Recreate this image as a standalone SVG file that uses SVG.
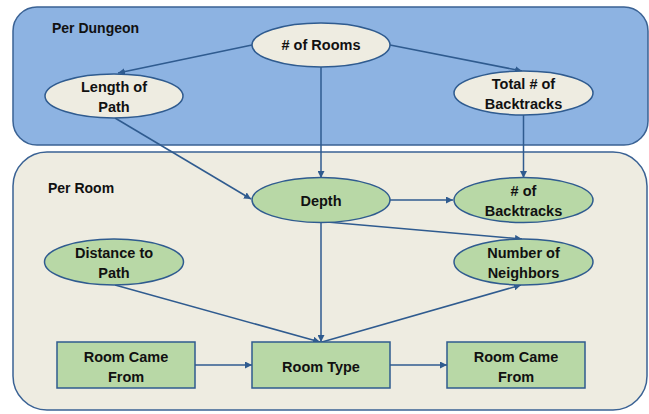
<svg xmlns="http://www.w3.org/2000/svg" width="649" height="414" viewBox="0 0 649 414">
<defs>
<style>
.t{font-family:"Liberation Sans",Arial,sans-serif;font-weight:bold;font-size:14.5px;fill:#111;text-anchor:middle}
.h{font-family:"Liberation Sans",Arial,sans-serif;font-weight:bold;font-size:14px;fill:#111}
.tan{fill:#EEECE1;stroke:#2F5B8F;stroke-width:1.5}
.grn{fill:#B8D8A6;stroke:#2F5B8F;stroke-width:1.5}
.e{fill:none;stroke:#2F5B8F;stroke-width:1.5;marker-end:url(#ah)}
</style>
<marker id="ah" viewBox="0 0 10 10" refX="10" refY="5" markerWidth="7" markerHeight="7" markerUnits="userSpaceOnUse" orient="auto">
<path d="M0,0 L10,5 L0,10 z" fill="#2F5B8F"/>
</marker>
</defs>
<g id="per-dungeon">
<rect x="13" y="7" width="635" height="138" rx="24" fill="#8DB3E2" stroke="#3A6294" stroke-width="1.5"/>
<text class="h" x="52" y="33">Per Dungeon</text>
</g>
<g id="per-room">
<rect x="13" y="152" width="634" height="258" rx="34" fill="#EEECE1" stroke="#3A6294" stroke-width="1.5"/>
<text class="h" x="48" y="193">Per Room</text>
</g>
<g id="connectors">
<line class="e" x1="252" y1="45" x2="118" y2="73"/>
<line class="e" x1="390" y1="45" x2="522" y2="71"/>
<line class="e" x1="321" y1="67" x2="321" y2="178"/>
<line class="e" x1="115" y1="118" x2="251" y2="199"/>
<line class="e" x1="523.5" y1="115" x2="523.5" y2="178"/>
<line class="e" x1="390" y1="200" x2="453" y2="200"/>
<line class="e" x1="327" y1="222" x2="522" y2="239"/>
<line class="e" x1="321" y1="222" x2="321" y2="342"/>
<line class="e" x1="115" y1="285" x2="320" y2="342"/>
<line class="e" x1="322" y1="342" x2="521" y2="285"/>
<line class="e" x1="195" y1="365" x2="252" y2="365"/>
<line class="e" x1="390" y1="365" x2="447" y2="365"/>
</g>
<g id="num-rooms">
<ellipse class="tan" cx="321" cy="45" rx="69" ry="22"/>
<text class="t" x="321" y="50">#&#160;of Rooms</text>
</g>
<g id="length-of-path">
<ellipse class="tan" cx="114" cy="96" rx="69" ry="22"/>
<text class="t" x="114" y="92">Length of</text>
<text class="t" x="114" y="112">Path</text>
</g>
<g id="total-backtracks">
<ellipse class="tan" cx="523.5" cy="93" rx="69.5" ry="22"/>
<text class="t" x="523.5" y="89">Total # of</text>
<text class="t" x="523.5" y="109">Backtracks</text>
</g>
<g id="depth">
<ellipse class="grn" cx="321" cy="200" rx="69" ry="22.5"/>
<text class="t" x="321" y="206">Depth</text>
</g>
<g id="backtracks">
<ellipse class="grn" cx="523.5" cy="200" rx="69.5" ry="22.5"/>
<text class="t" x="523.5" y="196"># of</text>
<text class="t" x="523.5" y="216">Backtracks</text>
</g>
<g id="neighbors">
<ellipse class="grn" cx="523.5" cy="262" rx="69.5" ry="23"/>
<text class="t" x="523.5" y="258">Number of</text>
<text class="t" x="523.5" y="278">Neighbors</text>
</g>
<g id="distance-to-path">
<ellipse class="grn" cx="114" cy="262" rx="69.5" ry="23"/>
<text class="t" x="114" y="258">Distance to</text>
<text class="t" x="114" y="278">Path</text>
</g>
<g id="room-came-from-left">
<rect class="grn" x="57" y="342" width="138" height="46"/>
<text class="t" x="126" y="362">Room Came</text>
<text class="t" x="126" y="382">From</text>
</g>
<g id="room-type">
<rect class="grn" x="252" y="342" width="138" height="46"/>
<text class="t" x="321" y="372">Room Type</text>
</g>
<g id="room-came-from-right">
<rect class="grn" x="447" y="342" width="138" height="46"/>
<text class="t" x="516" y="362">Room Came</text>
<text class="t" x="516" y="382">From</text>
</g>
</svg>
